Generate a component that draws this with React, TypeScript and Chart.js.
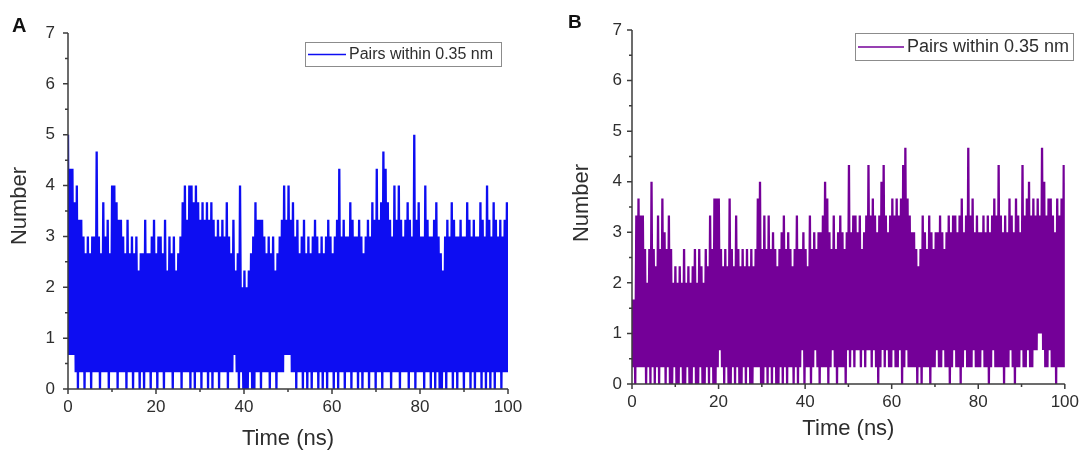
import React, { useEffect, useRef } from "react";
import { Chart, registerables } from "chart.js";

Chart.register(...registerables);

// ---------- data ----------
const SERIES_LABEL = "Pairs within 0.35 nm";
const X_TITLE = "Time (ns)";
const Y_TITLE = "Number";
const TIME_START = 0;
const TIME_END = 100;
const X_TICKS = [0, 20, 40, 60, 80, 100];
const X_MINOR_TICKS = [10, 30, 50, 70, 90];
const Y_TICKS = [0, 1, 2, 3, 4, 5, 6, 7];
const Y_MINOR_TICKS = [0.5, 1.5, 2.5, 3.5, 4.5, 5.5, 6.5];

// Panel A: upper and lower values of each 0.5 ns block
const A_HIGH = [
  5, 4.33, 4.33, 3.67, 4, 3.33, 3.33, 3, 2.67, 3,
  2.67, 3, 3, 4.67, 3, 2.67, 3.67, 3, 3.33, 2.67,
  4, 4, 3.67, 3.33, 3.33, 3, 2.67, 3.33, 2.67, 3,
  2.67, 3, 2.33, 2.67, 2.67, 3.33, 2.67, 2.67, 3, 3.33,
  2.67, 3, 3, 2.67, 3.33, 2.33, 3, 2.67, 3, 2.33,
  2.67, 3, 3.67, 4, 3.33, 4, 4, 3.67, 4, 3.67,
  3.33, 3.67, 3.33, 3.67, 3.33, 3.67, 3.33, 3, 3.33, 3,
  3.33, 3, 3.67, 3, 2.67, 3.33, 2.33, 2.67, 4, 2,
  2.33, 2, 2.33, 2.67, 3, 3.67, 3.33, 3.33, 3.33, 3,
  2.67, 3, 2.67, 3, 2.33, 2.67, 3, 3.33, 4, 3.33,
  4, 3.33, 3.67, 3, 3.33, 2.67, 3, 3.33, 2.67, 3,
  2.67, 3, 3.33, 3, 2.67, 3, 2.67, 3, 3.33, 3,
  2.67, 3, 3.33, 4.33, 3, 3.33, 3, 3, 3.67, 3.33,
  3, 3, 3.33, 3, 2.67, 3, 3.33, 3, 3.67, 3.33,
  4.33, 3.33, 3.67, 4.67, 4.33, 3.67, 3.33, 3, 4, 3.33,
  4, 3.33, 3, 3.33, 3.67, 3.33, 3, 5, 3.33, 3.67,
  3, 3, 4, 3.33, 3, 3, 3.33, 3.67, 3, 2.67,
  2.33, 3, 3.33, 3, 3.67, 3.33, 3, 3, 3.33, 3,
  3, 3.67, 3.33, 3, 3.33, 3, 3, 3.67, 3.33, 3,
  4, 3.33, 3, 3.67, 3.33, 3, 3.33, 3, 3.33, 3.67,
];
const A_LOW = [
  0.67, 0.67, 0.67, 0.33, 0, 0.33, 0.33, 0, 0.33, 0.33,
  0, 0.33, 0.33, 0.33, 0, 0.33, 0.33, 0.33, 0, 0.33,
  0.33, 0.33, 0, 0.33, 0.33, 0.33, 0, 0.33, 0.33, 0,
  0.33, 0.33, 0, 0.33, 0, 0.33, 0.33, 0, 0.33, 0.33,
  0, 0.33, 0.33, 0, 0.33, 0.33, 0.33, 0, 0.33, 0.33,
  0.33, 0, 0.33, 0.33, 0.33, 0, 0.33, 0, 0.33, 0.33,
  0, 0.33, 0.33, 0, 0.33, 0, 0.33, 0.33, 0, 0.33,
  0.33, 0.33, 0, 0.33, 0.33, 0.67, 0.33, 0, 0.33, 0,
  0, 0, 0.33, 0, 0, 0.33, 0.33, 0, 0.33, 0.33,
  0.33, 0, 0.33, 0.33, 0, 0.33, 0.33, 0.33, 0.67, 0.67,
  0.67, 0.33, 0.33, 0, 0.33, 0.33, 0, 0.33, 0, 0.33,
  0, 0.33, 0.33, 0, 0.33, 0, 0.33, 0, 0.33, 0.33,
  0, 0.33, 0, 0.33, 0.33, 0, 0.33, 0.33, 0, 0.33,
  0.33, 0, 0.33, 0, 0.33, 0.33, 0, 0.33, 0.33, 0,
  0.33, 0.33, 0, 0.33, 0.33, 0.33, 0, 0.33, 0.33, 0.33,
  0, 0.33, 0.33, 0.33, 0, 0.33, 0.33, 0, 0.33, 0.33,
  0.33, 0, 0.33, 0.33, 0, 0.33, 0, 0.33, 0, 0,
  0.33, 0, 0.33, 0.33, 0, 0.33, 0, 0.33, 0.33, 0,
  0.33, 0.33, 0, 0.33, 0, 0.33, 0.33, 0, 0.33, 0,
  0.33, 0, 0.33, 0, 0.33, 0.33, 0, 0.33, 0.33, 0.33,
];

// Panel B: upper and lower values of each 0.5 ns block
const B_HIGH = [
  1.67, 1.67, 3.33, 3.67, 3.33, 3.33, 2.67, 2, 2.67, 4,
  2.67, 2.33, 3.33, 2.67, 3.67, 3, 2.67, 3.33, 2.67, 2,
  2.33, 2, 2.33, 2, 2.67, 2, 2.33, 2, 2.33, 2.67,
  2, 2.67, 2.33, 2, 2.67, 2.33, 3.33, 2.67, 3.67, 3.67,
  3.67, 2.67, 2.33, 2.67, 2.33, 3.67, 2.67, 2.33, 3.33, 2.67,
  2.33, 2.67, 2.33, 2.67, 2.33, 2.67, 2.33, 2.67, 3.67, 4,
  2.67, 3.33, 2.67, 3.33, 2.67, 3, 2.67, 2.33, 2.67, 3,
  3.33, 2.67, 3, 2.67, 2.33, 2.67, 3.33, 2.67, 2.67, 3,
  2.67, 2.33, 3.33, 2.67, 3, 2.67, 3, 3, 3.33, 4,
  3.67, 3, 2.67, 3.33, 2.67, 3, 3.33, 3, 2.67, 3,
  4.33, 3, 3.33, 3.33, 3, 3.33, 2.67, 3, 3.33, 4.33,
  3.33, 3.67, 3.33, 3, 3.33, 4, 4.33, 3.33, 3, 3.33,
  3.67, 3.33, 3.67, 3.33, 3.67, 4.33, 4.67, 3.67, 3.33, 3,
  3, 2.67, 2.33, 2.67, 3.33, 3, 2.67, 3.33, 3, 2.67,
  3, 3, 3.33, 3, 2.67, 3, 3.33, 3, 3.33, 3.33,
  3, 3.33, 3.67, 3, 3.33, 4.67, 3.33, 3.67, 3, 3.33,
  3, 3, 3.33, 3, 3.33, 3, 3.33, 3.67, 3.33, 4.33,
  3.33, 3, 3.33, 3, 3.67, 3.33, 3, 3.67, 3.33, 3,
  4.33, 3.33, 3.67, 4, 3.33, 3.67, 3.33, 3.67, 3.33, 4.67,
  4, 3.33, 3.67, 3.67, 3.33, 3, 3.67, 3.33, 3.67, 4.33,
];
const B_LOW = [
  0.33, 0, 0.33, 0.33, 0.33, 0.33, 0, 0.33, 0, 0.33,
  0, 0.33, 0, 0.33, 0.33, 0, 0.33, 0, 0, 0.33,
  0, 0, 0.33, 0, 0, 0.33, 0, 0, 0.33, 0,
  0, 0.33, 0, 0, 0.33, 0, 0.33, 0, 0, 0.33,
  0.67, 0.33, 0, 0.33, 0, 0, 0.33, 0, 0.33, 0,
  0, 0.33, 0, 0.33, 0, 0, 0.33, 0.33, 0.33, 0,
  0, 0.33, 0, 0.33, 0, 0.33, 0, 0, 0.33, 0,
  0.33, 0, 0.33, 0.33, 0, 0.33, 0, 0.33, 0.67, 0,
  0.33, 0.33, 0, 0.33, 0.67, 0.33, 0, 0.33, 0.33, 0.33,
  0, 0.33, 0.67, 0.33, 0, 0.33, 0.33, 0.33, 0, 0.67,
  0.33, 0.67, 0.33, 0.67, 0.67, 0.33, 0.67, 0.33, 0.67, 0.67,
  0.33, 0.67, 0.33, 0, 0.33, 0.67, 0.33, 0.67, 0.33, 0.33,
  0.67, 0.33, 0.33, 0.67, 0, 0.33, 0.67, 0.33, 0.33, 0.33,
  0.33, 0, 0.33, 0, 0.33, 0.33, 0.33, 0, 0.33, 0.33,
  0.67, 0.33, 0.33, 0.67, 0.33, 0.33, 0, 0.33, 0.67, 0.33,
  0.33, 0, 0.33, 0.67, 0.33, 0.33, 0.33, 0.67, 0.33, 0.33,
  0.33, 0.67, 0.33, 0.33, 0, 0.33, 0.67, 0.33, 0.33, 0.33,
  0.33, 0, 0.33, 0.33, 0.67, 0.33, 0, 0.33, 0.33, 0.67,
  0.33, 0.33, 0.67, 0.33, 0.33, 0.67, 0.67, 1, 1, 0.67,
  0.33, 0.33, 0.67, 0.33, 0.33, 0, 0.33, 0.33, 0.33, 0.33,
];

// ---------- styling / layout ----------
const FONT = "'Liberation Sans', Arial, Helvetica, sans-serif";
const TEXT_COLOR = "#2e2e2e";
const AXIS_COLOR = "#3c3c3c";

type PanelCfg = {
  letter: string;
  color: string;
  high: number[];
  low: number[];
  left: number;
  width: number;
  height: number;
  area: { left: number; right: number; top: number; bottom: number };
  yTickPad: number;
  xTitleY: number;
  yTitleX: number;
  yTitleY: number;
  letterX: number;
  letterY: number;
  letterSize: number;
  legend: { x: number; y: number; w: number; h: number; line: number; font: number };
};

const PANEL_A: PanelCfg = {
  letter: "A",
  color: "#0d0df2",
  high: A_HIGH,
  low: A_LOW,
  left: 0,
  width: 540,
  height: 450,
  area: { left: 68, right: 508, top: 33, bottom: 389 },
  yTickPad: 13,
  xTitleY: 439,
  yTitleX: 20,
  yTitleY: 206,
  letterX: 12,
  letterY: 32,
  letterSize: 20,
  legend: { x: 305, y: 42, w: 196, h: 24, line: 38, font: 16 },
};

const PANEL_B: PanelCfg = {
  letter: "B",
  color: "#740098",
  high: B_HIGH,
  low: B_LOW,
  left: 560,
  width: 527,
  height: 450,
  area: { left: 72, right: 510, top: 30, bottom: 384 },
  yTickPad: 10,
  xTitleY: 429,
  yTitleX: 22,
  yTitleY: 203,
  letterX: 8,
  letterY: 28,
  letterSize: 19,
  legend: { x: 295, y: 33, w: 218, h: 27, line: 46, font: 18 },
};

function buildPoints(high: number[], low: number[]) {
  const n = high.length * 2;
  const dt = (TIME_END - TIME_START) / (n - 1);
  const pts: { x: number; y: number }[] = [];
  for (let k = 0; k < high.length; k++) {
    pts.push({ x: TIME_START + 2 * k * dt, y: high[k] });
    pts.push({ x: TIME_START + (2 * k + 1) * dt, y: low[k] });
  }
  return pts;
}

function makeDecor(cfg: PanelCfg) {
  return {
    id: "decor" + cfg.letter,
    afterDraw(chart: any) {
      const { ctx, chartArea: ca, scales } = chart;
      const xs = scales.x;
      const ys = scales.y;
      ctx.save();
      // axes
      ctx.strokeStyle = AXIS_COLOR;
      ctx.lineWidth = 1.5;
      ctx.beginPath();
      ctx.moveTo(ca.left, ca.top);
      ctx.lineTo(ca.left, ca.bottom);
      ctx.lineTo(ca.right, ca.bottom);
      Y_TICKS.forEach((v) => {
        const py = ys.getPixelForValue(v);
        ctx.moveTo(ca.left - 5, py);
        ctx.lineTo(ca.left, py);
      });
      Y_MINOR_TICKS.forEach((v) => {
        const py = ys.getPixelForValue(v);
        ctx.moveTo(ca.left - 3, py);
        ctx.lineTo(ca.left, py);
      });
      X_TICKS.forEach((v) => {
        const px = xs.getPixelForValue(v);
        ctx.moveTo(px, ca.bottom);
        ctx.lineTo(px, ca.bottom + 5);
      });
      X_MINOR_TICKS.forEach((v) => {
        const px = xs.getPixelForValue(v);
        ctx.moveTo(px, ca.bottom);
        ctx.lineTo(px, ca.bottom + 3);
      });
      ctx.stroke();

      // axis titles
      ctx.fillStyle = TEXT_COLOR;
      ctx.font = `22px ${FONT}`;
      ctx.textAlign = "center";
      ctx.textBaseline = "middle";
      ctx.fillText(X_TITLE, (ca.left + ca.right) / 2, cfg.xTitleY);
      ctx.save();
      ctx.translate(cfg.yTitleX, cfg.yTitleY);
      ctx.rotate(-Math.PI / 2);
      ctx.fillText(Y_TITLE, 0, 0);
      ctx.restore();

      // panel letter
      ctx.fillStyle = "#111";
      ctx.font = `bold ${cfg.letterSize}px ${FONT}`;
      ctx.textAlign = "left";
      ctx.textBaseline = "alphabetic";
      ctx.fillText(cfg.letter, cfg.letterX, cfg.letterY);

      // legend
      const L = cfg.legend;
      ctx.fillStyle = "#fff";
      ctx.fillRect(L.x, L.y, L.w, L.h);
      ctx.strokeStyle = "#8c8c8c";
      ctx.lineWidth = 1;
      ctx.strokeRect(L.x + 0.5, L.y + 0.5, L.w, L.h);
      ctx.strokeStyle = cfg.color;
      ctx.lineWidth = 1.3;
      ctx.beginPath();
      ctx.moveTo(L.x + 3, L.y + L.h / 2 + 0.5);
      ctx.lineTo(L.x + 3 + L.line, L.y + L.h / 2 + 0.5);
      ctx.stroke();
      ctx.fillStyle = TEXT_COLOR;
      ctx.font = `${L.font}px ${FONT}`;
      ctx.textAlign = "left";
      ctx.textBaseline = "middle";
      ctx.fillText(SERIES_LABEL, L.x + L.line + 6, L.y + L.h / 2 + 1);
      ctx.restore();
    },
  };
}

function Panel({ cfg }: { cfg: PanelCfg }) {
  const ref = useRef<HTMLCanvasElement | null>(null);
  useEffect(() => {
    if (!ref.current) return;
    const tickFont = { family: FONT, size: 17 };
    const chart = new Chart(ref.current, {
      type: "line",
      data: {
        datasets: [
          {
            label: SERIES_LABEL,
            data: buildPoints(cfg.high, cfg.low),
            borderColor: cfg.color,
            backgroundColor: cfg.color,
            borderWidth: 2.3,
            pointRadius: 0,
            fill: false,
            tension: 0,
            borderJoinStyle: "bevel",
          },
        ],
      },
      options: {
        responsive: false,
        animation: false,
        devicePixelRatio: 1,
        events: [],
        layout: {
          padding: {
            top: cfg.area.top,
            right: cfg.width - cfg.area.right,
            left: 0,
            bottom: 0,
          },
        },
        plugins: {
          legend: { display: false },
          tooltip: { enabled: false },
          title: { display: false },
        },
        scales: {
          x: {
            type: "linear",
            min: TIME_START,
            max: TIME_END,
            grid: { display: false, drawTicks: false },
            border: { display: false },
            ticks: {
              padding: 8,
              color: TEXT_COLOR,
              font: tickFont,
              maxRotation: 0,
              autoSkip: false,
            },
            afterBuildTicks: (s: any) => {
              s.ticks = X_TICKS.map((v) => ({ value: v }));
            },
            afterFit: (s: any) => {
              s.height = cfg.height - cfg.area.bottom;
            },
          },
          y: {
            type: "linear",
            min: Y_TICKS[0],
            max: Y_TICKS[Y_TICKS.length - 1],
            grid: { display: false, drawTicks: false },
            border: { display: false },
            ticks: {
              padding: cfg.yTickPad,
              color: TEXT_COLOR,
              font: tickFont,
              autoSkip: false,
            },
            afterBuildTicks: (s: any) => {
              s.ticks = Y_TICKS.map((v) => ({ value: v }));
            },
            afterFit: (s: any) => {
              s.width = cfg.area.left;
            },
          },
        },
      } as any,
      plugins: [makeDecor(cfg)],
    });
    return () => chart.destroy();
  }, [cfg]);
  return (
    <canvas
      ref={ref}
      width={cfg.width}
      height={cfg.height}
      style={{
        position: "absolute",
        left: cfg.left,
        top: 0,
        width: cfg.width,
        height: cfg.height,
      }}
    />
  );
}

export default function App() {
  return (
    <div
      style={{
        position: "fixed",
        left: 0,
        top: 0,
        width: 1087,
        height: 450,
        background: "#fff",
        overflow: "hidden",
      }}
    >
      <Panel cfg={PANEL_A} />
      <Panel cfg={PANEL_B} />
    </div>
  );
}
